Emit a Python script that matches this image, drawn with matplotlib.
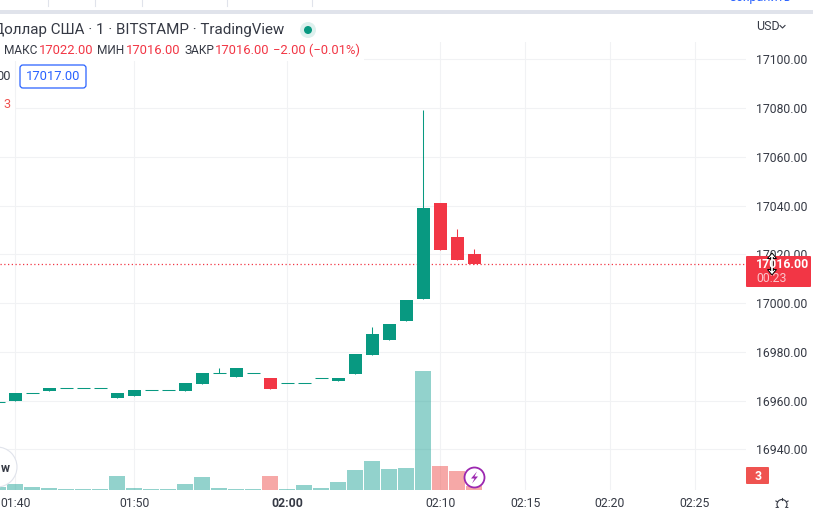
import numpy as np
import matplotlib
matplotlib.use("Agg")
import matplotlib.pyplot as plt
from matplotlib.patches import Rectangle, Circle, FancyBboxPatch, Polygon

plt.rcParams["font.family"] = ["Roboto", "DejaVu Sans"]

GREEN = "#089981"
RED = "#F23645"
GRID = "#F1F2F4"
TEXT = "#363A45"
BLUE = "#2962FF"

# candles, one per bar; index 0 is the 01:40 bar
bar_idx = np.arange(-1, 28)
opens = [16959.3, 16959.8, 16963.0, 16963.9, 16965.0, 16965.0, 16965.0, 16961.0, 16961.9, 16964.2,
         16964.2, 16963.9, 16966.8, 16971.2, 16969.7, 16971.2, 16969.3, 16967.1, 16967.1, 16969.1,
         16968.0, 16970.9, 16978.7, 16984.9, 16992.7, 17001.7, 17041.1, 17027.1, 17020.2]
closes = [16959.3, 16963.0, 16963.0, 16965.1, 16965.0, 16965.0, 16965.0, 16963.1, 16964.3, 16964.2,
          16964.2, 16967.2, 16971.3, 16971.2, 16973.4, 16971.2, 16964.7, 16967.1, 16967.1, 16969.1,
          16969.3, 16979.1, 16987.3, 16991.4, 17001.3, 17039.0, 17021.8, 17017.7, 17016.0]
highs = [16959.3, 16963.0, 16963.0, 16965.1, 16965.0, 16965.0, 16965.0, 16963.1, 16964.3, 16964.2,
         16964.2, 16967.2, 16971.3, 16973.4, 16973.4, 16971.2, 16969.3, 16967.1, 16967.1, 16969.1,
         16969.3, 16979.1, 16990.2, 16991.4, 17001.3, 17079.3, 17041.1, 17030.4, 17022.0]
lows = [16959.3, 16959.8, 16963.0, 16963.9, 16965.0, 16965.0, 16965.0, 16961.0, 16961.9, 16964.2,
        16964.2, 16963.9, 16966.8, 16971.2, 16969.7, 16971.2, 16964.7, 16967.1, 16967.1, 16969.1,
        16968.0, 16970.9, 16978.7, 16984.9, 16992.7, 17001.7, 17021.8, 17017.7, 17016.0]
volumes = [3, 6, 3, 2, 1, 1, 1, 14, 2, 1, 1, 6, 13, 2, 1, 1, 14, 1, 5, 2, 8, 20, 29, 21, 22, 119, 24, 19, 4]
vol_falling = [15, 25, 26, 27]

price_ticks = [16940, 16960, 16980, 17000, 17020, 17040, 17060, 17080, 17100]
time_ticks = [0, 7, 16, 25, 30, 35, 40]
time_labels = ["01:40", "01:50", "02:00", "02:10", "02:15", "02:20", "02:25"]
last_price = 17016.0

W, H = 813, 508
fig = plt.figure(figsize=(W / 100, H / 100), dpi=100, facecolor="white")

# plot area runs 0..746 px across, 42..490 px down
ax = fig.add_axes([0, (H - 490) / H, 746 / W, 448 / H])
ax.set_xlim(-0.9, 43.0)
ax.set_ylim(16923.27, 17107.18)
for s in ax.spines.values():
    s.set_visible(False)

# volume histogram on its own scale, drawn over the grid
ax_vol = ax.twinx()
ax_vol.set_ylim(0, 448)
ax_vol.axis("off")
vol_colors = ["#EF5350" if i in vol_falling else "#26A69A" for i in bar_idx]
ax_vol.bar(bar_idx, volumes, width=0.94, color=vol_colors, alpha=0.5, linewidth=0)

# twinx moves the ticks back to the left, so this comes after it
ax.yaxis.tick_right()
ax.set_yticks(price_ticks, [f"{p:.2f}" for p in price_ticks])
ax.set_xticks(time_ticks, time_labels)
ax.tick_params(axis="both", length=0, labelsize=8.8, labelcolor=TEXT)
ax.tick_params(axis="y", pad=7)
ax.tick_params(axis="x", pad=5)
ax.get_xticklabels()[2].set_fontweight("bold")
ax.grid(True, color=GRID, linewidth=0.75)
ax.set_axisbelow(True)

ax.axhline(last_price, color=RED, linewidth=0.9, linestyle=(0, (1, 2)), zorder=2)

for i, o, c, hi, lo in zip(bar_idx, opens, closes, highs, lows):
    col = GREEN if c >= o else RED
    ax.vlines(i, lo, hi, color=col, linewidth=0.75, zorder=3)
    if o == c:
        ax.hlines(o, i - 0.38, i + 0.38, color=col, linewidth=0.75, zorder=3)
    else:
        ax.bar(i, abs(c - o), bottom=min(o, c), width=0.76, color=col, linewidth=0, zorder=3)

# everything around the chart is placed in pixel coordinates
ov = fig.add_axes([0, 0, 1, 1], zorder=10)
ov.set_xlim(0, W)
ov.set_ylim(H, 0)
ov.axis("off")
ov.patch.set_alpha(0)

# top strip
ov.add_patch(Rectangle((0, 0), W, 10, facecolor="white", edgecolor="none"))
ov.add_patch(Rectangle((0, 10), W, 4, facecolor="#E0E3EB", edgecolor="none"))
for sx in [47.5, 94.5, 141.5, 226.5, 311.5]:
    ov.plot([sx, sx], [0, 6], color="#E0E3EB", linewidth=0.8)
ov.text(759, -2, "Сохранить", color=BLUE, fontsize=9, ha="center", va="center")

# legend backgrounds hide the grid
ov.add_patch(Rectangle((0, 22), 364, 39, facecolor="white", edgecolor="none"))
ov.add_patch(Rectangle((0, 97), 15, 18, facecolor="white", edgecolor="none"))

ov.text(284, 30, "Доллар США · 1 · BITSTAMP · TradingView", color=TEXT, fontsize=10.9,
        ha="right", va="center")
ov.add_patch(Circle((308, 30), 8, facecolor="#DDF1EE", edgecolor="none"))
ov.add_patch(Circle((308, 30), 4, facecolor=GREEN, edgecolor="none"))

row = [(4, "МАКС", TEXT, 8.6), (39, "17022.00", RED, 9.4), (97, "МИН", TEXT, 8.6), (126, "17016.00", RED, 9.4),
       (184, "ЗАКР", TEXT, 8.6), (215, "17016.00", RED, 9.4), (273, "−2.00 (−0.01%)", RED, 9.4)]
for tx, label, col, size in row:
    ov.text(tx, 50.5, label, color=col, fontsize=size, ha="left", va="center")

ov.text(11, 77, "00", color=TEXT, fontsize=9.2, ha="right", va="center")
ov.add_patch(FancyBboxPatch((21, 66), 64, 21, boxstyle="round,pad=1,rounding_size=3",
                            facecolor="white", edgecolor=BLUE, linewidth=0.9))
ov.text(53, 77, "17017.00", color=BLUE, fontsize=9.4, ha="center", va="center")
ov.text(3, 105, "3", color="#EF5350", fontsize=9.2, ha="left", va="center")

# axis header and last price tag
ov.text(756, 26.5, "USD", color=TEXT, fontsize=9, ha="left", va="center")
ov.plot([780, 782.5, 785], [25.5, 28, 25.5], color=TEXT, linewidth=0.8)
ov.add_patch(FancyBboxPatch((747, 257), 63, 29, boxstyle="round,pad=1,rounding_size=1",
                            facecolor=RED, edgecolor="none"))
ov.text(756, 264.5, "17016.00", color="white", fontsize=8.8, fontweight="bold", ha="left", va="center")
ov.text(756, 279, "00:23", color="#FBC4CA", fontsize=8.8, ha="left", va="center")
ov.plot([772, 772], [257, 271], color="black", linewidth=2.6, solid_capstyle="butt")
ov.plot([772, 772], [257, 271], color="white", linewidth=1.2, solid_capstyle="butt")
ov.add_patch(Polygon([[772, 253], [776.5, 258.5], [767.5, 258.5]], facecolor="white", edgecolor="black", linewidth=0.7))
ov.add_patch(Polygon([[772, 275], [776.5, 269.5], [767.5, 269.5]], facecolor="white", edgecolor="black", linewidth=0.7))

# bottom badges and icons
ov.add_patch(Circle((-3, 467), 20, facecolor="white", edgecolor="#E0E3EB", linewidth=0.8))
ov.text(5, 468, "w", color=TEXT, fontsize=8.8, fontweight="bold", ha="center", va="center")
ov.add_patch(Circle((474.5, 477.5), 10, facecolor="white", edgecolor="#9C27B0", linewidth=1.3))
ov.add_patch(Polygon([[477, 471.5], [471, 478.5], [474.5, 478.5], [472, 483.5], [478, 476.5], [474.5, 476.5]],
                     facecolor="#9C27B0", edgecolor="none"))
ov.add_patch(FancyBboxPatch((747, 468), 21, 15, boxstyle="round,pad=1,rounding_size=1",
                            facecolor="#EF5350", edgecolor="none"))
ov.text(758, 476, "3", color="white", fontsize=8.8, fontweight="bold", ha="center", va="center")
ov.add_patch(Circle((782, 504.5), 5, facecolor="white", edgecolor=TEXT, linewidth=0.8))
for a in np.deg2rad([0, 60, 120, 180, 240, 300]):
    ov.plot([782 + 5 * np.sin(a), 782 + 7 * np.sin(a)], [504.5 - 5 * np.cos(a), 504.5 - 7 * np.cos(a)],
            color=TEXT, linewidth=0.8)

fig.savefig("out.png", dpi=100)
